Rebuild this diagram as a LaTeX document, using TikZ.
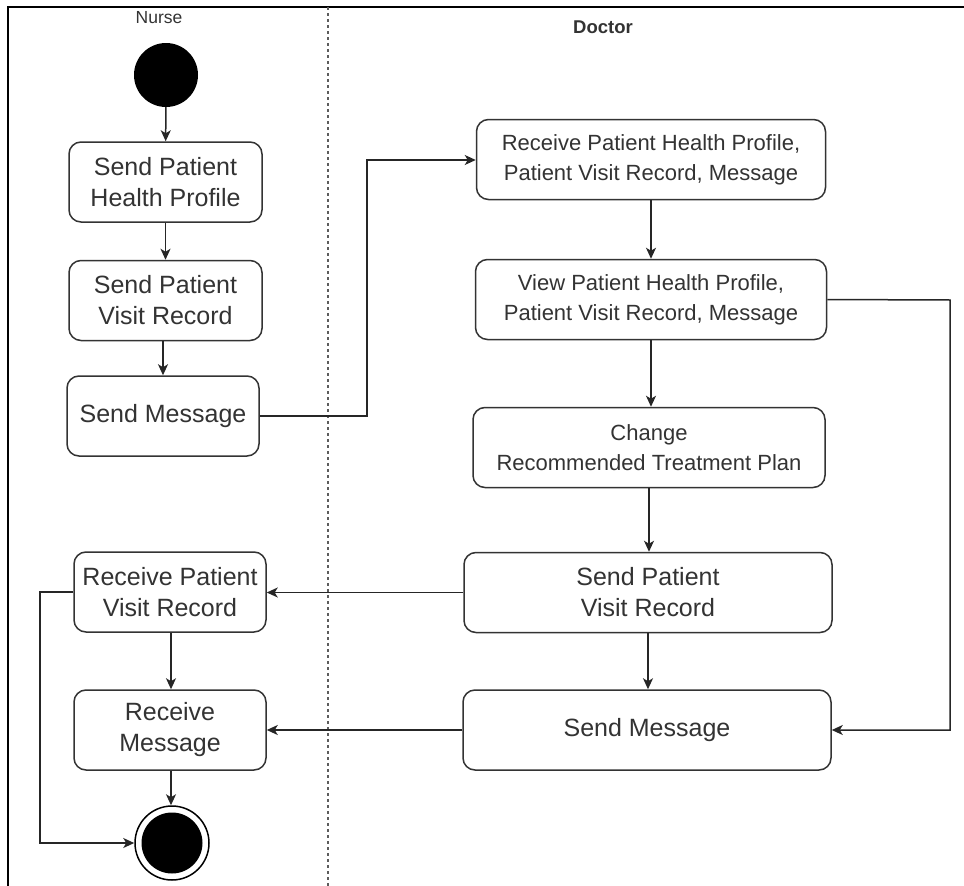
\documentclass[tikz,border=0pt]{standalone}
\usepackage{fontspec}
\setmainfont{Liberation Sans}
\usetikzlibrary{arrows.meta,positioning}
\definecolor{ink}{HTML}{333333}
\begin{document}
\begin{tikzpicture}[x=1pt,y=-1pt,
  act/.style={draw=ink,line width=1.5pt,rounded corners=12pt,fill=white,
    text=ink,align=center,inner sep=0pt,minimum height=80pt},
  bigtext/.style={font=\fontsize{25}{31}\selectfont},
  smalltext/.style={font=\fontsize{22}{30}\selectfont},
  flow/.style={draw=black!85,line width=1.5pt,
    -{Stealth[length=11pt,width=10pt,inset=3pt]}},
  lane/.style={font=\fontsize{17.5}{20}\selectfont,text=ink}]
\useasboundingbox (0,0) rectangle (964,886);

% frame and swimlane divider
\draw[line width=2pt] (964,7) -- (8,7) -- (8,886);
\draw[ink!80,line width=1.5pt,dash pattern=on 3pt off 3pt] (328,7) -- (328,886);

% lane titles
\node[lane] (nurse) at (159,18) {Nurse};
\node[lane,font=\fontsize{18.5}{20}\selectfont\bfseries] (doctor) at (603,27) {Doctor};

% initial and final states
\node[circle,fill=black,minimum size=64pt,inner sep=0pt] (start) at (166,75) {};
\node[circle,draw=black,line width=1.5pt,fill=white,minimum size=74pt,inner sep=0pt] (stop) at (172,843) {};
\node[circle,fill=black,minimum size=61pt,inner sep=0pt] (stopin) at (172,843) {};

% nurse activities
\node[act,bigtext,minimum width=193pt] (n1) at (165.5,182) {Send Patient\\Health Profile};
\node[act,bigtext,minimum width=193pt] (n2) at (165.5,300.5) {Send Patient\\Visit Record};
\node[act,bigtext,minimum width=192pt] (n3) at (163,416) {Send Message};
\node[act,bigtext,minimum width=192pt] (n4) at (170,592) {Receive Patient\\Visit Record};
\node[act,bigtext,minimum width=192pt] (n5) at (170,730) {Receive\\Message};

% doctor activities
\node[act,smalltext,minimum width=349pt] (d1) at (651,159.5) {Receive Patient Health Profile,\\Patient Visit Record, Message};
\node[act,smalltext,minimum width=351pt] (d2) at (651,299.5) {View Patient Health Profile,\\Patient Visit Record, Message};
\node[act,smalltext,minimum width=352pt] (d3) at (649,447.5) {Change\\Recommended Treatment Plan};
\node[act,bigtext,minimum width=368pt] (d4) at (648,592.5) {Send Patient\\Visit Record};
\node[act,bigtext,minimum width=368pt] (d5) at (647,730) {Send Message};

% routing points
\coordinate (c1) at (367,416);
\coordinate (c2) at (367,160);
\coordinate (c3) at (950,300);
\coordinate (c4) at (950,730);
\coordinate (c5) at (40,592);
\coordinate (c6) at (40,843);

% connectors
\draw[flow] (start) -- (n1);
\draw[flow] (n1) -- (n2);
\draw[flow] (n2.south -| 163,0) -- (n3);
\draw[flow] (n3.east) -- (c1) -- (c2) -- (c2 -| d1.west);
\draw[flow] (d1) -- (d2);
\draw[flow] (d2.south -| 651,0) -- (d3.north -| 651,0);
\draw[flow] (d3) -- (d4.north -| d3.south);
\draw[flow] (d4) -- (d5.north -| d4.south);
\draw[flow] (d2.east) -- (c3) -- (c4) -- (d5.east);
\draw[flow] (d4.west) -- (n4.east |- d4.west);
\draw[flow] (d5.west) -- (n5.east);
\draw[flow] (n4.south -| 171,0) -- (n5.north -| 171,0);
\draw[flow] (n5.south -| 171,0) -- (stop.north -| 171,0);
\draw[flow] (n4.west) -- (c5) -- (c6) -- (stop.west);
\end{tikzpicture}
\end{document}
